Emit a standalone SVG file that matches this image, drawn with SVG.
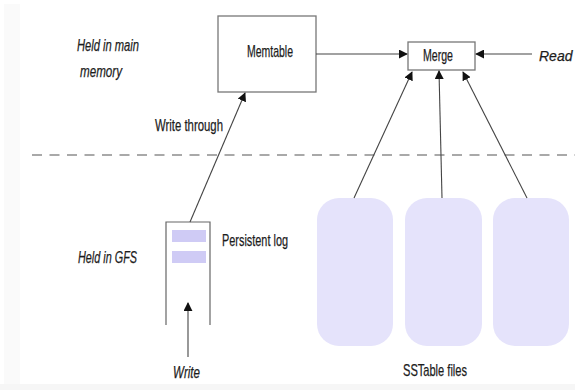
<svg xmlns="http://www.w3.org/2000/svg" width="575" height="390" viewBox="0 0 575 390">
  <style>
    .lbl { font-family: "Liberation Sans", Arial, sans-serif; font-size: 17px; fill: #1c1c1c; stroke: #1c1c1c; stroke-width: 0.25; }
    .it { font-style: italic; }
    .sm { font-size: 14px; }
    .box { fill: #fff; stroke: #777; stroke-width: 1.3; }
    .conn { stroke: #444; stroke-width: 1.1; fill: none; }
    .bar { fill: #cfcbf5; }
    .sst { fill: #e5e3fb; }
  </style>
  <defs>
    <marker id="arr" viewBox="0 0 10 10" refX="9" refY="5" markerWidth="9" markerHeight="9" markerUnits="userSpaceOnUse" orient="auto">
      <path d="M0,0 L10,5 L0,10 z" fill="#111"/>
    </marker>
  </defs>

  <rect width="575" height="390" fill="#fff"/>
  <rect x="4" y="4" width="16" height="380" fill="#fafafa"/>
  <rect x="0" y="384" width="575" height="6" fill="#f6f6f6"/>

  <!-- region labels -->
  <text class="lbl it" x="77" y="51" textLength="62" lengthAdjust="spacingAndGlyphs">Held in main</text>
  <text class="lbl it" x="80" y="77" textLength="42" lengthAdjust="spacingAndGlyphs">memory</text>
  <text class="lbl it" x="78" y="263" textLength="59" lengthAdjust="spacingAndGlyphs">Held in GFS</text>

  <!-- memory / GFS boundary -->
  <line x1="32" y1="155" x2="575" y2="155" stroke="#555" stroke-width="1.1" stroke-dasharray="10,7.5"/>

  <g id="memtable">
    <rect class="box" x="218" y="16" width="98" height="76"/>
    <text class="lbl" x="247" y="57" textLength="46" lengthAdjust="spacingAndGlyphs">Memtable</text>
  </g>

  <g id="merge">
    <rect class="box" x="408" y="42" width="67" height="28"/>
    <text class="lbl" x="423" y="61" textLength="30" lengthAdjust="spacingAndGlyphs">Merge</text>
  </g>

  <g id="read">
    <text class="lbl it sm" x="539" y="61">Read</text>
  </g>

  <g id="log">
    <path d="M166,325 V222 H210 V325" fill="none" stroke="#666" stroke-width="1.2"/>
    <rect class="bar" x="172" y="230" width="34" height="12"/>
    <rect class="bar" x="172" y="251" width="34" height="12"/>
    <text class="lbl" x="222" y="246" textLength="66" lengthAdjust="spacingAndGlyphs">Persistent log</text>
  </g>

  <g id="write">
    <text class="lbl it" x="173" y="378" textLength="27" lengthAdjust="spacingAndGlyphs">Write</text>
  </g>

  <g id="sstables">
    <rect class="sst" x="317" y="198" width="76" height="148" rx="22" ry="22"/>
    <rect class="sst" x="405" y="198" width="77" height="148" rx="22" ry="22"/>
    <rect class="sst" x="493" y="198" width="76" height="148" rx="22" ry="22"/>
    <text class="lbl" x="403" y="376" textLength="64" lengthAdjust="spacingAndGlyphs">SSTable files</text>
  </g>

  <g id="connectors">
    <line class="conn" x1="316" y1="54" x2="407" y2="54" marker-end="url(#arr)"/>
    <line class="conn" x1="532" y1="54" x2="476" y2="54" marker-end="url(#arr)"/>
    <line class="conn" x1="190" y1="222" x2="245" y2="93" marker-end="url(#arr)"/>
    <text class="lbl" x="155" y="131" textLength="68" lengthAdjust="spacingAndGlyphs">Write through</text>
    <line class="conn" x1="188" y1="357" x2="188" y2="303" marker-end="url(#arr)"/>
    <line class="conn" x1="354" y1="198" x2="412" y2="72" marker-end="url(#arr)"/>
    <line class="conn" x1="442" y1="198" x2="439" y2="71" marker-end="url(#arr)"/>
    <line class="conn" x1="527" y1="198" x2="463" y2="72" marker-end="url(#arr)"/>
  </g>
</svg>
